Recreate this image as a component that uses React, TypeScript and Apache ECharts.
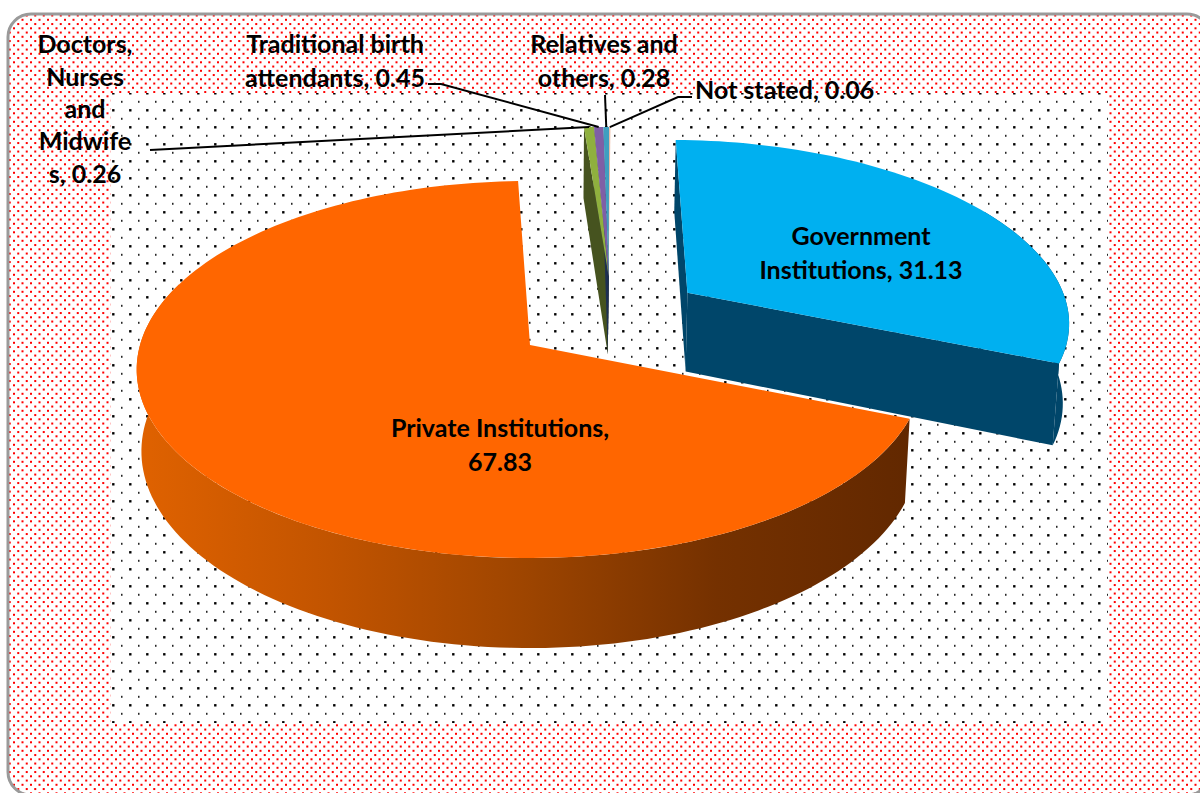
import React, { useEffect, useRef } from "react";
import * as echarts from "echarts";

const CATEGORIES = [
  "Government Institutions",
  "Private Institutions",
  "Doctors, Nurses and Midwifes",
  "Traditional birth attendants",
  "Relatives and others",
  "Not stated",
];
const VALUES = [31.13, 67.83, 0.26, 0.45, 0.28, 0.06];
const LABEL_LINES = [
  ["Government", "Institutions, 31.13"],
  ["Private Institutions,", "67.83"],
  ["Doctors,", "Nurses", "and", "Midwife", "s, 0.26"],
  ["Traditional birth", "attendants, 0.45"],
  ["Relatives and", "others, 0.28"],
  ["Not stated, 0.06"],
];
const TOP_COLORS = ["#00B0F0", "#FF6600", "#8FB03E", "#7F5FA6", "#3F9FC0", "#EDB79E"];
const CUT_COLORS = ["#00466A", "#6A2B00", "#46531F", "#2F2A4E", "#1E2F52", "#1E2F52"];
const CUT_Z = [1, 0, 21, 20, 22, 23];
const EXPLODE = [[0.419, 0.293], [0, 0], [0.212, 0.389], [0.212, 0.389], [0.212, 0.389], [0.212, 0.389]];
// small angular corrections (degrees) for the drawing's own skew
const NUDGE = [[0, 0], [-0.8, 0.8], [0, 0.8], [0.8, 0.8], [0.8, 0.8], [0.8, 0.8]];
const LABEL_POS = [
  { x: 861, y: 252, align: "center", lh: 34 },
  { x: 500, y: 444, align: "center", lh: 34 },
  { x: 85, y: 108, align: "center", lh: 32.4 },
  { x: 335, y: 60, align: "center", lh: 34 },
  { x: 604, y: 60, align: "center", lh: 34 },
  { x: 695, y: 89, align: "left", lh: 34 },
];
const LEADERS: (number[][] | null)[] = [
  null,
  null,
  [[150, 150]],
  [[428, 84], [441, 84]],
  [[605, 95]],
  [[692, 97], [678, 97]],
];

const START_DEG = 1;
const TOTAL = VALUES.reduce((a, b) => a + b, 0);
const K = 0.13, A = 390, B = 185.3, C = 82, N = 0.012, CX = 530, CY = 345;

function proj(X: number, Y: number, h: number): number[] {
  const u = 1 + K * Y + N * h;
  return [CX + (A * X) / u, CY - (B * Y) / u + (C * h) / u];
}
function rim(deg: number, off: number[], h: number): number[] {
  const r = (deg * Math.PI) / 180;
  return proj(off[0] + Math.sin(r), off[1] + Math.cos(r), h);
}
function arc(a: number, b: number, off: number[], h: number): number[][] {
  const n = Math.max(2, Math.ceil(Math.abs(b - a) / 1.5));
  const pts: number[][] = [];
  for (let i = 0; i <= n; i++) pts.push(rim(a + ((b - a) * i) / n, off, h));
  return pts;
}

function tile(draw: (c: CanvasRenderingContext2D) => void): HTMLCanvasElement {
  const cv = document.createElement("canvas");
  cv.width = 17;
  cv.height = 17;
  const c = cv.getContext("2d")!;
  c.fillStyle = "#fff";
  c.fillRect(0, 0, 17, 17);
  draw(c);
  return cv;
}
function wrapDot(c: CanvasRenderingContext2D, x: number, y: number, w: number, h: number) {
  for (const dx of [-17, 0, 17]) for (const dy of [-17, 0, 17]) c.fillRect(x + dx - w / 2, y + dy - h / 2, w, h);
}

export default function App() {
  const ref = useRef<HTMLDivElement>(null);
  useEffect(() => {
    document.body.style.margin = "0";
    const chart = echarts.init(ref.current!, null, { renderer: "svg" });
    const red = tile((c) => {
      c.fillStyle = "#ff0000";
      for (let i = 0; i < 2; i++)
        for (let j = 0; j < 2; j++) {
          wrapDot(c, 5.5 + i * 8.5, 2.8 + j * 8.5, 2, 2);
          wrapDot(c, 5.5 + 4.25 + i * 8.5, 2.8 + 4.25 + j * 8.5, 2, 2);
        }
    });
    const black = tile((c) => {
      c.fillStyle = "#000";
      wrapDot(c, 11.3, 8.3, 2.4, 2.4);
      wrapDot(c, 2.8, 16.8, 1.3, 2);
    });
    const renderItem = (params: any, api: any) => {
      const i = params.dataIndex;
      const before = VALUES.slice(0, i).reduce((a, b) => a + b, 0);
      const a0 = START_DEG + (before / TOTAL) * 360 + NUDGE[i][0];
      const a1 = START_DEG + ((before + api.value(0)) / TOTAL) * 360 + NUDGE[i][1];
      const off = EXPLODE[i];
      const apexT = proj(off[0], off[1], 0);
      const apexB = proj(off[0], off[1], 1);
      const children: any[] = [];
      const poly = (points: number[][], fill: any, z2: number) =>
        children.push({ type: "polygon", shape: { points }, style: { fill, stroke: "none" }, z2 });
      const topZ = i < 2 ? i * 10 + 3 : 25 + i;
      if (i !== 1) poly([rim(a0, off, 0), apexT, apexB, rim(a0, off, 1)], CUT_COLORS[i], CUT_Z[i]);
      if (i === 0) {
        poly([...arc(60, a1, off, 0), ...arc(a1, 60, off, 1)], CUT_COLORS[i], 1);
        poly([apexT, rim(a1, off, 0), rim(a1, off, 1), apexB], CUT_COLORS[i], 2);
      }
      if (i === 1) {
        const wall = new echarts.graphic.LinearGradient(0, 0, 1, 0, [
          { offset: 0, color: "#E06200" },
          { offset: 0.25, color: "#C25400" },
          { offset: 0.5, color: "#9E4500" },
          { offset: 0.75, color: "#753100" },
          { offset: 1, color: "#622800" },
        ]);
        poly([...arc(a0, 290, off, 0), ...arc(290, a0, off, 1)], wall, 11);
      }
      poly([apexT, ...arc(a0, a1, off, 0)], TOP_COLORS[i], topZ);
      const lead = LEADERS[i];
      if (lead) {
        children.push({
          type: "polyline",
          shape: { points: [...lead, rim((a0 + a1) / 2, off, 0)] },
          style: { stroke: "#000", lineWidth: 2, fill: "none" },
          z2: 40,
        });
      }
      const lp = LABEL_POS[i];
      children.push({
        type: "text",
        style: {
          text: LABEL_LINES[i].join("\n"),
          x: lp.x,
          y: lp.y,
          align: lp.align,
          verticalAlign: "middle",
          lineHeight: lp.lh,
          fill: "#000",
          font: '700 25px Lato, "Open Sans", sans-serif',
        },
        z2: 50,
      });
      return { type: "group", children };
    };
    chart.setOption({
      animation: false,
      graphic: [
        {
          type: "rect",
          shape: { x: 8, y: 14, width: 1202, height: 781, r: 23 },
          style: { fill: { image: red, repeat: "repeat" }, stroke: "#9a9a9a", lineWidth: 3 },
          z: 0,
        },
        {
          type: "rect",
          shape: { x: 111, y: 93, width: 997, height: 630 },
          style: { fill: { image: black, repeat: "repeat" } },
          z: 1,
        },
      ],
      series: [
        {
          type: "custom",
          coordinateSystem: "none",
          silent: true,
          z: 5,
          renderItem,
          data: CATEGORIES.map((name, k) => ({ name, value: [VALUES[k]] })),
        },
      ],
    });
    return () => chart.dispose();
  }, []);
  return <div ref={ref} style={{ position: "absolute", left: 0, top: 0, width: 1200, height: 793 }} />;
}
